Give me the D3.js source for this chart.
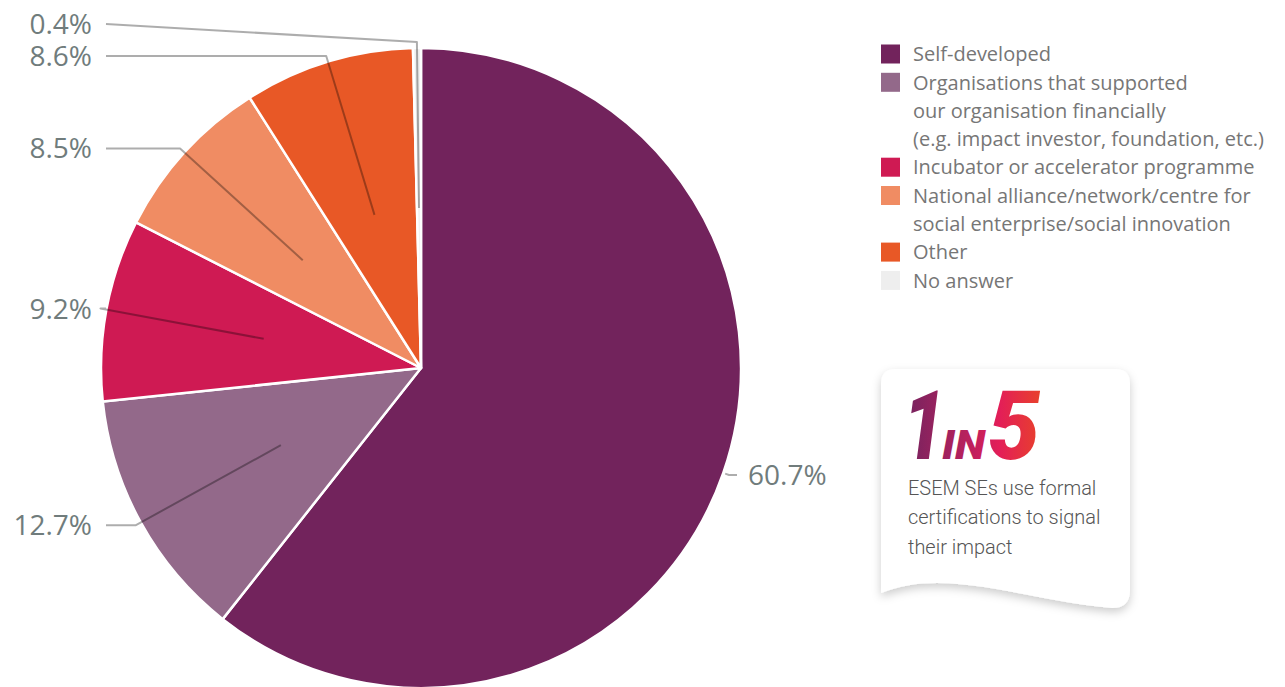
<!DOCTYPE html>
<html>
<head>
<meta charset="utf-8">
<script src="https://cdn.jsdelivr.net/npm/d3@7"></script>
<style>
  html, body { margin: 0; padding: 0; background: #ffffff; }
  svg { display: block; }
</style>
</head>
<body>
<svg id="chart" width="1285" height="687"></svg>
<script>
// Sources of the impact measurement method (share of respondents)
const categories = [
  "Self-developed",
  "Organisations that supported\nour organisation financially\n(e.g. impact investor, foundation, etc.)",
  "Incubator or accelerator programme",
  "National alliance/network/centre for\nsocial enterprise/social innovation",
  "Other",
  "No answer"
];
const values = [60.7, 12.7, 9.2, 8.5, 8.6, 0.4];
const colors = ["#72235c", "#93698a", "#cf1a53", "#f08c63", "#e85826", "#eeeeee"];

const calloutBig = ["1", "IN", "5"];
const calloutText = ["ESEM SEs use formal", "certifications to signal", "their impact"];

const data = categories.map((c, i) => ({ name: c, value: values[i], color: colors[i] }));

const svg = d3.select("#chart");
const cx = 421, cy = 368, radius = 320;

// ---- Pie ----
const pie = d3.pie().sort(null).value(d => d.value).startAngle(0).endAngle(2 * Math.PI);
const arcs = pie(data);
const arc = d3.arc().innerRadius(0).outerRadius(radius);

const g = svg.append("g").attr("transform", `translate(${cx},${cy})`);
g.selectAll("path.slice")
  .data(arcs)
  .join("path")
  .attr("class", "slice")
  .attr("d", arc)
  .attr("fill", d => d.data.color)
  .attr("stroke", "#ffffff")
  .attr("stroke-width", 2.5)
  .attr("stroke-linejoin", "round");

// ---- Leader lines and value labels ----
const polar = (a, r) => [Math.sin(a) * r, -Math.cos(a) * r];
const labels = arcs.map(d => {
  const mid = (d.startAngle + d.endAngle) / 2;
  const left = mid > Math.PI;
  return {
    d, mid, left,
    inner: polar(mid, radius * 0.5),
    edge: polar(mid, radius + 2),
    elbow: polar(mid, radius + 6),
    y: polar(mid, radius + 6)[1]
  };
});

// keep left-hand labels apart by pushing the upper ones up
const minGap = 32;
const leftLabels = labels.filter(l => l.left).sort((a, b) => b.y - a.y);
for (let i = 1; i < leftLabels.length; i++) {
  if (leftLabels[i - 1].y - leftLabels[i].y < minGap) {
    leftLabels[i].y = leftLabels[i - 1].y - minGap;
  }
}

const lineX = { left: -radius + 5, right: radius - 4 };
const leaders = svg.append("g").attr("transform", `translate(${cx},${cy})`);

labels.forEach(l => {
  const endX = l.left ? lineX.left : lineX.right;
  const start = l.left ? l.inner : l.edge;
  const pts = [start, l.elbow, [endX, l.y]];
  leaders.append("path")
    .attr("d", d3.line()(pts))
    .attr("fill", "none")
    .attr("stroke", "#000")
    .attr("stroke-opacity", 0.32)
    .attr("stroke-width", 2)
    .attr("stroke-linejoin", "round");
  leaders.append("text")
    .attr("x", l.left ? endX - 14 : endX + 11)
    .attr("y", l.y)
    .attr("dy", "0.36em")
    .attr("text-anchor", l.left ? "end" : "start")
    .attr("font-family", "'Open Sans', sans-serif")
    .attr("font-size", 28)
    .attr("fill", "#707c7c")
    .text(l.d.data.value.toFixed(1) + "%");
});

// ---- Legend ----
const legend = svg.append("g").attr("transform", "translate(881,54)");
const lineH = 28.3;
let line = 0;
data.forEach(d => {
  const rows = d.name.split("\n");
  const item = legend.append("g").attr("transform", `translate(0,${line * lineH})`);
  item.append("rect")
    .attr("x", 0).attr("y", -9.5)
    .attr("width", 19).attr("height", 19)
    .attr("fill", d.color);
  rows.forEach((r, j) => {
    item.append("text")
      .attr("x", 32)
      .attr("y", j * lineH)
      .attr("dy", "0.36em")
      .attr("font-family", "'Open Sans', sans-serif")
      .attr("font-size", 20)
      .attr("fill", "#767676")
      .text(r);
  });
  line += rows.length;
});

// ---- Callout card ----
const defs = svg.append("defs");
const shadow = defs.append("filter").attr("id", "cardShadow")
  .attr("x", "-20%").attr("y", "-20%").attr("width", "140%").attr("height", "150%");
shadow.append("feDropShadow")
  .attr("dx", 0).attr("dy", 4).attr("stdDeviation", 5)
  .attr("flood-color", "#000").attr("flood-opacity", 0.2);

const grad = defs.append("linearGradient").attr("id", "bigGrad")
  .attr("gradientUnits", "userSpaceOnUse")
  .attr("x1", 905).attr("y1", 0).attr("x2", 1040).attr("y2", 0);
[[0, "#74235f"], [0.45, "#b7215d"], [0.7, "#e31e58"], [1, "#e8402c"]]
  .forEach(([o, c]) => grad.append("stop").attr("offset", o).attr("stop-color", c));

const card = svg.append("g");
card.append("path")
  .attr("d", "M881,593 C900,586 915,583 937,583 C990,583 1050,603 1112,608 Q1130,608 1130,590 L1130,384 Q1130,369 1115,369 L896,369 Q881,369 881,384 Z")
  .attr("fill", "#ffffff")
  .attr("filter", "url(#cardShadow)");

const bigFont = "Roboto, sans-serif";
const bigSpec = [
  { x: 903, size: 97, len: 42 },
  { x: 942, size: 41, len: 43 },
  { x: 988, size: 97, len: 52 }
];
calloutBig.forEach((t, i) => {
  card.append("text")
    .attr("x", bigSpec[i].x).attr("y", 459)
    .attr("font-family", bigFont).attr("font-weight", 900).attr("font-style", "italic")
    .attr("font-size", bigSpec[i].size)
    .attr("textLength", bigSpec[i].len).attr("lengthAdjust", "spacingAndGlyphs")
    .attr("fill", "url(#bigGrad)")
    .text(t);
});

const body = card.append("g").attr("transform", "translate(908,0) scale(0.95,1)");
calloutText.forEach((t, i) => {
  body.append("text")
    .attr("x", 0).attr("y", 495 + i * 29.5)
    .attr("font-family", "Roboto, sans-serif")
    .attr("font-weight", 300)
    .attr("font-size", 21)
    .attr("fill", "#555555")
    .text(t);
});
</script>
</body>
</html>
